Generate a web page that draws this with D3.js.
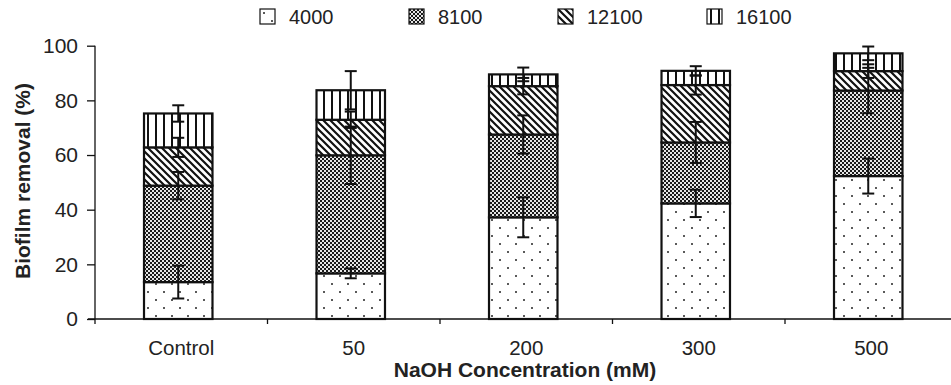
<!DOCTYPE html>
<html>
  <head>
    <meta charset="utf-8">
    <script src="https://d3js.org/d3.v7.min.js"></script>
    <style>
      body { margin: 0; background: #fff; }
      text { font-family: "Liberation Sans", Arial, sans-serif; fill: #222; }
    </style>
  </head>

  <body>

    <svg width="951" height="385"></svg>

    <script>

      // categories and series (segment heights, % removal)
      var categories = ["Control", "50", "200", "300", "500"];
      var seriesNames = ["4000", "8100", "12100", "16100"];

      var s4000  = [13.5, 16.7, 37.2, 42.3, 52.3];
      var s8100  = [35.3, 43.2, 30.3, 22.3, 31.3];
      var s12100 = [14.0, 13.0, 17.7, 21.0,  7.1];
      var s16100 = [12.4, 10.8,  4.3,  5.2,  6.5];

      var e4000  = [6.0, 1.8, 7.3, 5.0, 6.4];
      var e8100  = [5.0, 10.5, 7.0, 7.5, 8.3];
      var e12100 = [3.5, 3.0, 3.0, 3.5, 2.5];
      var e16100 = [3.0, 7.0, 2.5, 1.7, 2.5];

      var yTicks = [0, 20, 40, 60, 80, 100];

      var values = [s4000, s8100, s12100, s16100];
      var errors = [e4000, e8100, e12100, e16100];
      var fills = ["url(#dots)", "url(#checker)", "url(#diag)", "url(#vert)"];

      var svg = d3.select("svg");

      var x = d3.scaleBand().domain(categories).range([95, 957.5]);
      var y = d3.scaleLinear().domain([0, 100]).range([319, 45.7]);
      var barW = x.bandwidth() * 0.397;

      // patterns
      var defs = svg.append("defs");

      var p = defs.append("pattern").attr("id", "dots")
          .attr("patternUnits", "userSpaceOnUse").attr("width", 16).attr("height", 16);
      p.append("rect").attr("width", 16).attr("height", 16).attr("fill", "#fff");
      p.append("circle").attr("cx", 4).attr("cy", 4).attr("r", 1).attr("fill", "#222");
      p.append("circle").attr("cx", 12).attr("cy", 12).attr("r", 1).attr("fill", "#222");

      p = defs.append("pattern").attr("id", "checker")
          .attr("patternUnits", "userSpaceOnUse").attr("width", 4).attr("height", 4);
      p.append("rect").attr("width", 4).attr("height", 4).attr("fill", "#e6e6e6");
      p.append("rect").attr("width", 2).attr("height", 2).attr("fill", "#1a1a1a");
      p.append("rect").attr("x", 2).attr("y", 2).attr("width", 2).attr("height", 2).attr("fill", "#1a1a1a");

      p = defs.append("pattern").attr("id", "diag")
          .attr("patternUnits", "userSpaceOnUse").attr("width", 7).attr("height", 7);
      p.append("rect").attr("width", 7).attr("height", 7).attr("fill", "#fff");
      p.append("path").attr("d", "M-1,-1L8,8M-2,5L2,9M5,-2L9,2")
          .attr("stroke", "#111").attr("stroke-width", 2.2);

      p = defs.append("pattern").attr("id", "vert")
          .attr("patternUnits", "userSpaceOnUse").attr("width", 8).attr("height", 8);
      p.append("rect").attr("width", 8).attr("height", 8).attr("fill", "#fff");
      p.append("rect").attr("x", 3).attr("width", 2).attr("height", 8).attr("fill", "#111");

      // stacked data
      var rows = categories.map(function(c, i) {
        var r = {cat: c};
        seriesNames.forEach(function(s, j) { r[s] = values[j][i]; });
        return r;
      });
      var stacked = d3.stack().keys(seriesNames)(rows);

      var barX = function(d) { return x(d.data.cat) + x.bandwidth() / 2 - barW / 2 - 3; };

      svg.selectAll(".series")
          .data(stacked)
        .enter().append("g")
          .attr("class", "series")
          .attr("fill", function(d, i) { return fills[i]; })
        .selectAll("rect")
          .data(function(d) { return d; })
        .enter().append("rect")
          .attr("x", barX)
          .attr("width", barW)
          .attr("y", function(d) { return y(d[1]); })
          .attr("height", function(d) { return y(d[0]) - y(d[1]); })
          .attr("stroke", "#111")
          .attr("stroke-width", 2.2);

      // error bars on top of each segment
      var errs = [];
      stacked.forEach(function(s, j) {
        s.forEach(function(d, i) {
          errs.push({cx: barX(d) + barW / 2, v: d[1], e: errors[j][i]});
        });
      });

      var eb = svg.selectAll(".err")
          .data(errs)
        .enter().append("g")
          .attr("class", "err")
          .attr("stroke", "#111")
          .attr("stroke-width", 2);
      eb.append("line")
          .attr("x1", function(d) { return d.cx; })
          .attr("x2", function(d) { return d.cx; })
          .attr("y1", function(d) { return y(d.v + d.e); })
          .attr("y2", function(d) { return y(d.v - d.e); });
      eb.append("line")
          .attr("x1", function(d) { return d.cx - 6; })
          .attr("x2", function(d) { return d.cx + 6; })
          .attr("y1", function(d) { return y(d.v + d.e); })
          .attr("y2", function(d) { return y(d.v + d.e); });
      eb.append("line")
          .attr("x1", function(d) { return d.cx - 6; })
          .attr("x2", function(d) { return d.cx + 6; })
          .attr("y1", function(d) { return y(d.v - d.e); })
          .attr("y2", function(d) { return y(d.v - d.e); });

      // y axis
      var yAxis = svg.append("g")
          .attr("transform", "translate(95,0)")
          .call(d3.axisLeft(y).tickValues(yTicks).tickSize(8).tickSizeOuter(0).tickPadding(9));
      yAxis.select(".domain").attr("stroke", "#111").attr("stroke-width", 1.3)
          .attr("d", "M0," + y(100) + "V" + (y(0) + 5));
      yAxis.selectAll(".tick line").attr("stroke", "#111").attr("stroke-width", 1.3);
      yAxis.selectAll(".tick text").attr("font-size", 21).attr("fill", "#222")
          .style("font-family", "Liberation Sans, Arial, sans-serif");

      // x axis: line, ticks between categories, labels at band centres
      svg.append("line")
          .attr("x1", x.range()[0] - 7).attr("x2", x.range()[1])
          .attr("y1", y(0)).attr("y2", y(0))
          .attr("stroke", "#111").attr("stroke-width", 1.3);

      svg.selectAll(".xtick")
          .data(categories.slice(1))
        .enter().append("line")
          .attr("class", "xtick")
          .attr("x1", function(d) { return x(d); })
          .attr("x2", function(d) { return x(d); })
          .attr("y1", y(0)).attr("y2", y(0) + 5)
          .attr("stroke", "#111").attr("stroke-width", 1.3);

      svg.selectAll(".xlabel")
          .data(categories)
        .enter().append("text")
          .attr("class", "xlabel")
          .attr("x", function(d) { return x(d) + x.bandwidth() / 2; })
          .attr("y", y(0) + 36)
          .attr("text-anchor", "middle")
          .attr("font-size", 20.5)
          .text(function(d) { return d; });

      svg.append("text")
          .attr("x", 525).attr("y", 377)
          .attr("text-anchor", "middle")
          .attr("font-size", 21).attr("font-weight", "bold")
          .text("NaOH Concentration (mM)");

      svg.append("text")
          .attr("transform", "translate(30,181) rotate(-90)")
          .attr("text-anchor", "middle")
          .attr("font-size", 21).attr("font-weight", "bold")
          .text("Biofilm removal (%)");

      // legend
      var leg = svg.selectAll(".legend")
          .data(seriesNames)
        .enter().append("g")
          .attr("class", "legend")
          .attr("transform", function(d, i) { return "translate(" + (260 + i * 149) + ",9)"; });
      leg.append("rect")
          .attr("width", 15).attr("height", 15)
          .attr("fill", function(d, i) { return fills[i]; })
          .attr("stroke", "#111").attr("stroke-width", 1.2);
      leg.append("text")
          .attr("x", 29).attr("y", 15)
          .attr("font-size", 20)
          .text(function(d) { return d; });

    </script>
  </body>
</html>
